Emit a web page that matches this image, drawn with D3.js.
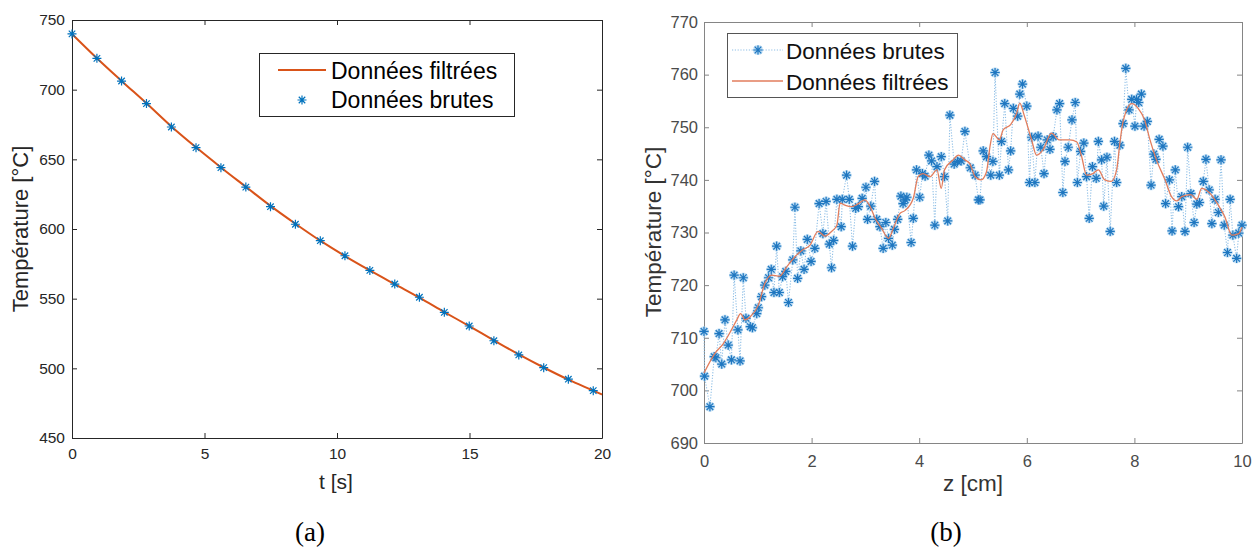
<!DOCTYPE html>
<html><head><meta charset="utf-8">
<script src="https://cdn.jsdelivr.net/npm/d3@7"></script>
<style>body{margin:0;background:#fff}svg{display:block}</style>
</head><body><svg id="c" width="1252" height="549"></svg>
<script>
// ---------- Panel (a) data ----------
const timeA = [0, 0.94, 1.87, 2.81, 3.75, 4.68, 5.62, 6.56, 7.49, 8.43, 9.37, 10.3, 11.24, 12.18, 13.11, 14.05, 14.99, 15.92, 16.86, 17.8, 18.73, 19.67];
const rawA  = [740, 722.5, 706.2, 690, 673.2, 658.4, 644, 630.1, 616, 603.4, 591.6, 580.8, 570.3, 560.5, 551, 540.2, 530.4, 519.8, 509.6, 500.5, 492.2, 484];
const filtTimeA = [0, 0.94, 1.87, 2.81, 3.75, 4.68, 5.62, 6.56, 7.49, 8.43, 9.37, 10.3, 11.24, 12.18, 13.11, 14.05, 14.99, 15.92, 16.86, 17.8, 18.73, 19.67, 20];
const filtA = [740, 722.6, 706.3, 690.2, 673.6, 658.6, 644.2, 630.3, 616.6, 603.8, 591.6, 580.6, 570.3, 560.4, 550.7, 540.4, 530.3, 520.1, 510, 500.6, 491.9, 484, 481.2];
const ticksAx = [0, 5, 10, 15, 20];
const ticksAy = [450, 500, 550, 600, 650, 700, 750];

// ---------- Panel (b) data ----------
const zRaw = [0.00,0.01,0.11,0.19,0.22,0.28,0.33,0.39,0.45,0.51,0.56,0.63,0.67,0.73,0.78,0.86,0.90,0.98,1.01,1.07,1.13,1.20,1.25,1.30,1.35,1.40,1.46,1.52,1.57,1.65,1.69,1.74,1.80,1.86,1.92,1.99,2.06,2.14,2.21,2.27,2.33,2.37,2.41,2.47,2.55,2.57,2.65,2.70,2.76,2.82,2.87,2.94,3.01,3.04,3.10,3.17,3.21,3.27,3.33,3.38,3.43,3.50,3.54,3.60,3.66,3.70,3.74,3.77,3.85,3.89,3.95,4.01,4.06,4.11,4.18,4.23,4.29,4.33,4.41,4.47,4.53,4.57,4.65,4.71,4.78,4.85,4.95,5.04,5.10,5.13,5.19,5.25,5.33,5.37,5.41,5.49,5.53,5.59,5.66,5.70,5.75,5.83,5.87,5.92,6.00,6.05,6.09,6.15,6.21,6.26,6.32,6.38,6.43,6.49,6.56,6.61,6.67,6.71,6.77,6.84,6.90,6.94,7.00,7.06,7.11,7.16,7.22,7.29,7.33,7.39,7.43,7.49,7.55,7.63,7.67,7.73,7.79,7.84,7.90,7.95,8.01,8.04,8.08,8.13,8.18,8.24,8.31,8.36,8.40,8.46,8.53,8.58,8.65,8.70,8.76,8.82,8.88,8.94,8.99,9.05,9.11,9.16,9.21,9.28,9.33,9.39,9.44,9.50,9.56,9.61,9.67,9.73,9.78,9.83,9.90,9.94,10.00];
const tempRaw = [711.2,702.7,696.9,706.4,706.2,710.8,705.0,713.4,708.6,705.8,721.9,711.5,705.6,721.4,713.7,712.1,711.9,714.6,715.7,717.8,720.0,721.4,723.0,718.6,727.4,718.6,721.6,722.6,716.7,724.8,734.8,721.3,726.5,723.0,728.7,724.5,727.0,735.5,729.8,735.9,727.8,723.3,728.5,736.3,731.1,736.3,740.9,736.3,727.4,734.6,734.9,736.5,738.6,732.5,735.0,739.7,732.5,731.1,727.0,731.9,728.9,727.6,730.6,732.5,736.9,735.5,736.2,736.7,728.1,732.7,741.9,736.7,741.2,740.7,744.7,743.6,731.4,742.5,744.4,740.6,732.2,752.3,743.0,743.5,743.6,749.2,742.3,740.9,736.2,736.2,745.5,744.4,740.9,743.5,760.4,740.9,747.3,754.5,741.9,745.5,753.6,752.1,756.3,758.2,754.0,739.5,748.1,739.5,748.3,746.2,741.2,747.6,745.8,748.2,753.3,754.5,737.6,743.5,746.2,751.4,754.7,739.5,745.4,747.0,740.6,732.7,742.5,740.3,747.3,743.8,735.0,744.3,730.2,747.3,739.5,746.6,750.7,761.2,753.3,755.3,750.2,755.3,754.7,756.3,750.2,751.1,739.0,744.9,743.9,747.7,746.4,735.5,740.0,730.3,741.9,734.9,736.8,730.2,746.2,737.4,731.9,735.4,735.7,739.7,743.9,738.1,731.7,736.3,733.8,743.8,731.4,726.2,736.3,729.5,725.1,729.9,731.4];
const zFilt = [0,0.2,0.36,0.51,0.61,0.68,0.76,0.86,1.01,1.13,1.26,1.4,1.54,1.69,1.82,1.97,2.12,2.25,2.37,2.47,2.53,2.62,2.74,2.87,2.99,3.09,3.18,3.3,3.43,3.52,3.64,3.74,3.89,3.98,4.07,4.2,4.33,4.41,4.47,4.63,4.73,4.85,4.94,5.04,5.15,5.25,5.32,5.37,5.49,5.56,5.7,5.81,5.87,5.95,6.09,6.18,6.3,6.46,6.6,6.8,6.93,7.02,7.11,7.23,7.33,7.45,7.57,7.67,7.73,7.79,7.95,8.07,8.19,8.29,8.41,8.57,8.69,8.79,8.88,9.05,9.16,9.25,9.39,9.56,9.68,9.81,9.94,10];
const tempFilt = [703.3,707,708.9,711.5,713.4,714.6,713.4,714,716.2,720.3,721.9,721.7,723.5,725.4,726.6,727.6,730.2,729.3,730.2,731.4,735.6,735.2,734.9,735.5,736.2,734.9,732.7,730.8,728.9,730.8,733.6,734.2,736.5,740.6,741.2,740.6,741.9,738.4,741.9,743.8,744.7,743.8,743.1,740.6,740.0,741.5,746.6,748.8,747.6,749.5,750.5,752.6,754.6,752.3,747.6,744.7,745.7,748.9,747.6,747.6,747.2,744.4,740.9,741.2,741.9,740.0,739.7,741.9,747,751.1,754.5,753.6,751.4,747.6,743.8,740,736.8,736,736.8,737.2,736.3,738.4,737.6,735.2,733.0,729.5,729.8,731];
const ticksBx = [0, 2, 4, 6, 8, 10];
const ticksBy = [690, 700, 710, 720, 730, 740, 750, 760, 770];

const svg = d3.select('#c');
const SANS = 'Liberation Sans, Arial, Helvetica, sans-serif';
const SERIF = 'Liberation Serif, Times New Roman, serif';

function starPath(r) {
  const d = r * 0.72;
  return `M${-r},0L${r},0M0,${-r}L0,${r}M${-d},${-d}L${d},${d}M${-d},${d}L${d},${-d}`;
}

function frame(g, x, y, tx, ty, color, labelColor, fs, padX, padY) {
  const [x0, x1] = x.range(), [y0, y1] = y.range(); // y0 bottom
  const ax = g.append('g').attr('transform', `translate(0,${y0})`)
    .call(d3.axisBottom(x).tickValues(tx).tickSize(-5).tickSizeOuter(0).tickPadding(padX));
  const ay = g.append('g').attr('transform', `translate(${x0},0)`)
    .call(d3.axisLeft(y).tickValues(ty).tickSize(-5).tickSizeOuter(0).tickPadding(padY));
  const at = g.append('g').attr('transform', `translate(0,${y1})`)
    .call(d3.axisTop(x).tickValues(tx).tickSize(-5).tickSizeOuter(0).tickFormat(''));
  const ar = g.append('g').attr('transform', `translate(${x1},0)`)
    .call(d3.axisRight(y).tickValues(ty).tickSize(-5).tickSizeOuter(0).tickFormat(''));
  [ax, ay, at, ar].forEach(a => {
    a.selectAll('path,line').attr('stroke', color).attr('stroke-width', 1);
    a.selectAll('text').attr('fill', labelColor).style('font-family', SANS).style('font-size', fs + 'px');
  });
}

// ================= Panel (a) =================
const xA = d3.scaleLinear().domain([0, 20]).range([72, 602]);
const yA = d3.scaleLinear().domain([450, 750]).range([438, 20]);
const gA = svg.append('g');
frame(gA, xA, yA, ticksAx, ticksAy, '#262626', '#262626', 15.5, 10, 7);

gA.append('path')
  .datum(filtTimeA.map((t, i) => [t, filtA[i]]))
  .attr('fill', 'none').attr('stroke', '#D95319').attr('stroke-width', 2)
  .attr('d', d3.line().x(d => xA(d[0])).y(d => yA(d[1])).curve(d3.curveMonotoneX));

gA.append('g').selectAll('path').data(timeA.map((t, i) => [t, rawA[i]])).join('path')
  .attr('transform', d => `translate(${xA(d[0])},${yA(d[1])})`)
  .attr('d', starPath(4.5)).attr('fill', 'none')
  .attr('stroke', '#0072BD').attr('stroke-width', 1.2);

gA.append('text').attr('x', 336).attr('y', 489).attr('text-anchor', 'middle')
  .style('font-family', SANS).style('font-size', '21px').attr('fill', '#262626').text('t [s]');
gA.append('text').attr('transform', 'translate(28,229) rotate(-90)').attr('text-anchor', 'middle')
  .style('font-family', SANS).style('font-size', '22px').attr('fill', '#262626').text('Température [°C]');
gA.append('text').attr('x', 310).attr('y', 541).attr('text-anchor', 'middle')
  .style('font-family', SERIF).style('font-size', '27px').attr('fill', '#000').text('(a)');

// legend (a)
const lgA = gA.append('g');
lgA.append('rect').attr('x', 259.5).attr('y', 53.5).attr('width', 255).attr('height', 63)
  .attr('fill', '#fff').attr('stroke', '#262626').attr('stroke-width', 1);
lgA.append('line').attr('x1', 278).attr('x2', 326).attr('y1', 70).attr('y2', 70)
  .attr('stroke', '#D95319').attr('stroke-width', 2);
lgA.append('path').attr('transform', 'translate(302,100)').attr('d', starPath(4.5))
  .attr('fill', 'none').attr('stroke', '#0072BD').attr('stroke-width', 1.2);
lgA.append('text').attr('x', 331).attr('y', 79).style('font-family', SANS).style('font-size', '23px').attr('fill', '#000').text('Données filtrées');
lgA.append('text').attr('x', 331).attr('y', 108).style('font-family', SANS).style('font-size', '23px').attr('fill', '#000').text('Données brutes');

// ================= Panel (b) =================
const xB = d3.scaleLinear().domain([0, 10]).range([704, 1242]);
const yB = d3.scaleLinear().domain([690, 770]).range([443, 22]);
const gB = svg.append('g');
frame(gB, xB, yB, ticksBx, ticksBy, '#858585', '#4a4a4a', 16.5, 12, 6);

const rawB = zRaw.map((z, i) => [z, tempRaw[i]]);
gB.append('path').datum(rawB)
  .attr('fill', 'none').attr('stroke', '#8fbfe6').attr('stroke-width', 1.1).attr('stroke-dasharray', '1.2,1.6')
  .attr('d', d3.line().x(d => xB(d[0])).y(d => yB(d[1])));

const stars = gB.append('g');
stars.selectAll('path.h').data(rawB).join('path').attr('class', 'h')
  .attr('transform', d => `translate(${xB(d[0])},${yB(d[1])})`)
  .attr('d', starPath(5)).attr('fill', 'none').attr('stroke', '#b8daf3').attr('stroke-width', 3);
stars.selectAll('path.s').data(rawB).join('path').attr('class', 's')
  .attr('transform', d => `translate(${xB(d[0])},${yB(d[1])})`)
  .attr('d', starPath(4.6)).attr('fill', 'none').attr('stroke', '#1f77c0').attr('stroke-width', 1.2);

gB.append('path').datum(zFilt.map((z, i) => [z, tempFilt[i]]))
  .attr('fill', 'none').attr('stroke', '#e27d5d').attr('stroke-width', 1.3)
  .attr('d', d3.line().x(d => xB(d[0])).y(d => yB(d[1])).curve(d3.curveMonotoneX));

gB.append('text').attr('x', 973).attr('y', 491).attr('text-anchor', 'middle')
  .style('font-family', SANS).style('font-size', '22.5px').attr('fill', '#333').text('z [cm]');
gB.append('text').attr('transform', 'translate(661,232) rotate(-90)').attr('text-anchor', 'middle')
  .style('font-family', SANS).style('font-size', '22.5px').attr('fill', '#333').text('Température [°C]');
gB.append('text').attr('x', 946).attr('y', 541).attr('text-anchor', 'middle')
  .style('font-family', SERIF).style('font-size', '27px').attr('fill', '#000').text('(b)');

// legend (b)
const lgB = gB.append('g');
lgB.append('rect').attr('x', 727.5).attr('y', 33.5).attr('width', 230).attr('height', 64)
  .attr('fill', '#fff').attr('stroke', '#555').attr('stroke-width', 1);
lgB.append('line').attr('x1', 732).attr('x2', 783).attr('y1', 50).attr('y2', 50)
  .attr('stroke', '#8fbfe6').attr('stroke-width', 1.1).attr('stroke-dasharray', '1.2,1.6');
lgB.append('path').attr('transform', 'translate(758,50)').attr('d', starPath(5))
  .attr('fill', 'none').attr('stroke', '#b8daf3').attr('stroke-width', 3);
lgB.append('path').attr('transform', 'translate(758,50)').attr('d', starPath(4.6))
  .attr('fill', 'none').attr('stroke', '#1f77c0').attr('stroke-width', 1.2);
lgB.append('line').attr('x1', 732).attr('x2', 783).attr('y1', 81).attr('y2', 81)
  .attr('stroke', '#e27d5d').attr('stroke-width', 1.3);
lgB.append('text').attr('x', 786).attr('y', 59).style('font-family', SANS).style('font-size', '22.5px').attr('fill', '#111').text('Données brutes');
lgB.append('text').attr('x', 786).attr('y', 90).style('font-family', SANS).style('font-size', '22.5px').attr('fill', '#111').text('Données filtrées');
</script>
</body></html>
